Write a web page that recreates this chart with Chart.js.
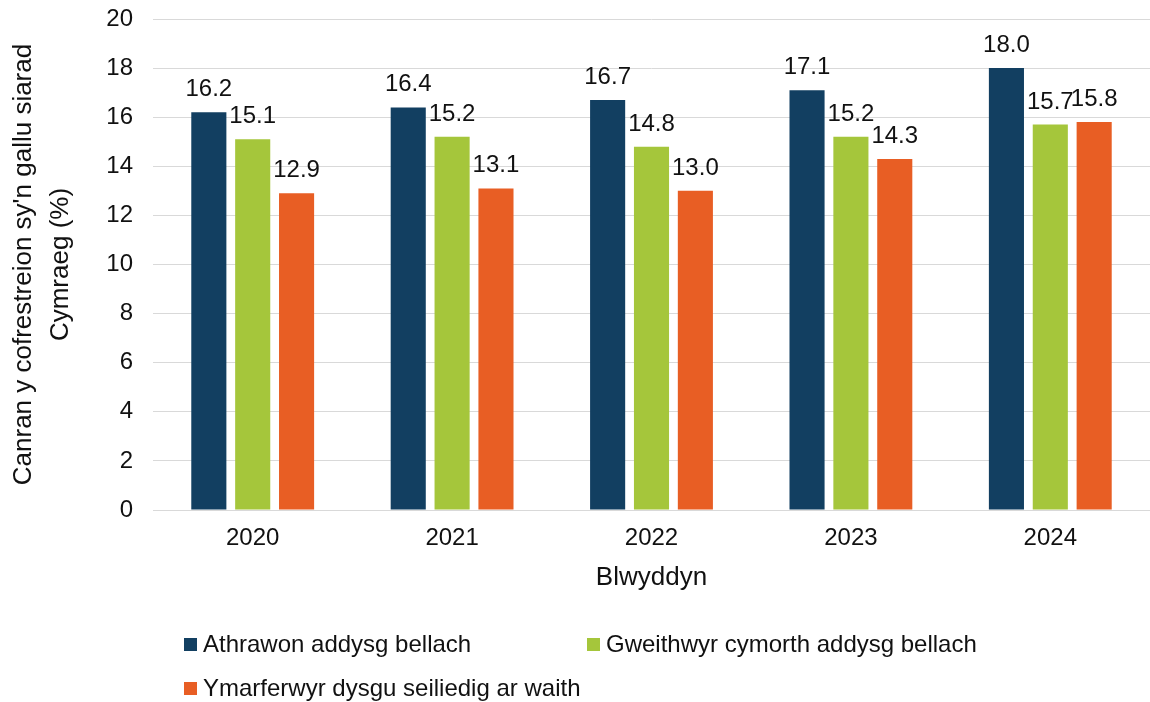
<!DOCTYPE html>
<html>
<head>
<meta charset="utf-8">
<script src="https://cdn.jsdelivr.net/npm/chart.js@4/dist/chart.umd.min.js"></script>
<style>
  html, body { margin: 0; padding: 0; background: #fff; }
  #wrap { position: relative; width: 1150px; height: 702px; font-family: "Liberation Sans", Arial, sans-serif; }
  #c { position: absolute; left: 0; top: 0; }
  .leg { position: absolute; display: flex; align-items: center; font-size: 24px; color: #111; white-space: nowrap; }
  .leg .box { width: 13px; height: 13px; margin-right: 6px; }
</style>
</head>
<body>
<div id="wrap">
  <canvas id="c" width="1150" height="702"></canvas>
  <div class="leg" style="left:184px; top:630px;"><div class="box" style="background:#123f61"></div><span>Athrawon addysg bellach</span></div>
  <div class="leg" style="left:587px; top:630px;"><div class="box" style="background:#a5c63b"></div><span>Gweithwyr cymorth addysg bellach</span></div>
  <div class="leg" style="left:184px; top:674px;"><div class="box" style="background:#e85e24"></div><span>Ymarferwyr dysgu seiliedig ar waith</span></div>
</div>
<script>
const years = ["2020", "2021", "2022", "2023", "2024"];
const seriesNames = ["Athrawon addysg bellach", "Gweithwyr cymorth addysg bellach", "Ymarferwyr dysgu seiliedig ar waith"];
const athrawon = [16.2, 16.4, 16.7, 17.1, 18.0];
const gweithwyr = [15.1, 15.2, 14.8, 15.2, 15.7];
const ymarferwyr = [12.9, 13.1, 13.0, 14.3, 15.8];
const yTicks = [0, 2, 4, 6, 8, 10, 12, 14, 16, 18, 20];
const colors = ["#123f61", "#a5c63b", "#e85e24"];

const FONT = "'Liberation Sans', Arial, sans-serif";

const labelPlugin = {
  id: 'barLabels',
  afterDatasetsDraw(chart) {
    const ctx = chart.ctx;
    ctx.save();
    ctx.font = "24px " + FONT;
    ctx.fillStyle = "#111";
    ctx.textAlign = "center";
    ctx.textBaseline = "alphabetic";
    chart.data.datasets.forEach((ds, di) => {
      const meta = chart.getDatasetMeta(di);
      meta.data.forEach((bar, i) => {
        ctx.fillText(ds.data[i].toFixed(1), bar.x, bar.y - 16);
      });
    });
    ctx.restore();
  }
};

new Chart(document.getElementById('c'), {
  type: 'bar',
  data: {
    labels: years,
    datasets: [
      { label: seriesNames[0], data: athrawon, backgroundColor: colors[0] },
      { label: seriesNames[1], data: gweithwyr, backgroundColor: colors[1] },
      { label: seriesNames[2], data: ymarferwyr, backgroundColor: colors[2] }
    ]
  },
  options: {
    responsive: false,
    animation: false,
    devicePixelRatio: 1,
    layout: { padding: { left: 0, right: 0, top: 19, bottom: 109 } },
    datasets: { bar: { categoryPercentage: 0.66, barPercentage: 0.8 } },
    plugins: {
      legend: { display: false },
      tooltip: { enabled: false }
    },
    scales: {
      x: {
        grid: { display: false, drawTicks: false },
        border: { display: true, color: '#d9d9d9', width: 1 },
        ticks: { color: '#111', font: { family: FONT, size: 24 }, padding: 14 },
        title: { display: true, text: 'Blwyddyn', color: '#111', font: { family: FONT, size: 26 }, padding: { top: 6, bottom: 0 } },
        afterFit(scale) { scale.height = 83; }
      },
      y: {
        min: 0, max: 20,
        afterBuildTicks(scale) { scale.ticks = yTicks.map(v => ({ value: v })); },
        grid: { color: '#d9d9d9', lineWidth: 1, drawTicks: true, tickLength: 20, tickColor: 'rgba(0,0,0,0)' },
        border: { display: false },
        ticks: { color: '#111', font: { family: FONT, size: 24 }, padding: 0 },
        title: { display: true, text: ["Canran y cofrestreion sy'n gallu siarad", "Cymraeg (%)"], color: '#111', font: { family: FONT, size: 26, lineHeight: 1.4 }, padding: { top: 6, bottom: 0 } },
        afterFit(scale) { scale.width = 153; }
      }
    }
  },
  plugins: [labelPlugin]
});
</script>
</body>
</html>
